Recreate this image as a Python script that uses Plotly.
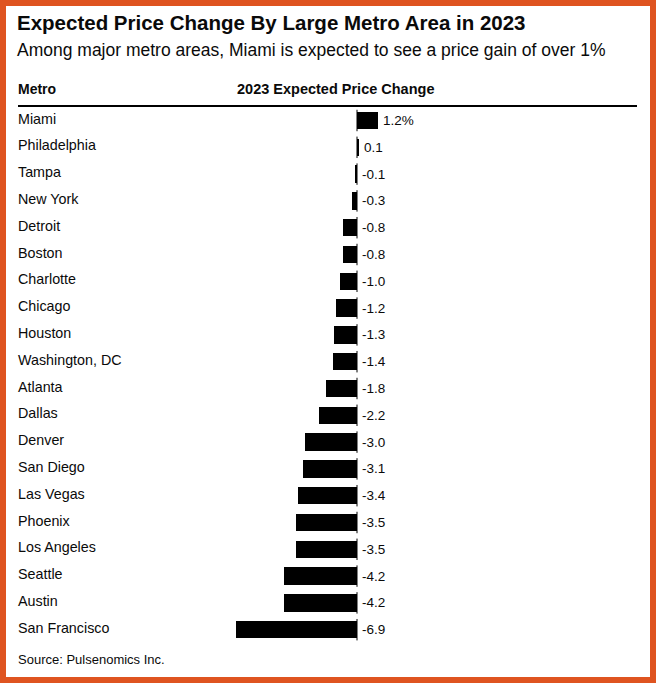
import plotly.graph_objects as go

metros = ["Miami", "Philadelphia", "Tampa", "New York", "Detroit", "Boston", "Charlotte",
          "Chicago", "Houston", "Washington, DC", "Atlanta", "Dallas", "Denver", "San Diego",
          "Las Vegas", "Phoenix", "Los Angeles", "Seattle", "Austin", "San Francisco"]
changes = [1.2, 0.1, -0.1, -0.3, -0.8, -0.8, -1.0, -1.2, -1.3, -1.4, -1.8, -2.2, -3.0,
           -3.1, -3.4, -3.5, -3.5, -4.2, -4.2, -6.9]
value_labels = ["1.2%", "0.1", "-0.1", "-0.3", "-0.8", "-0.8", "-1.0", "-1.2", "-1.3", "-1.4",
                "-1.8", "-2.2", "-3.0", "-3.1", "-3.4", "-3.5", "-3.5", "-4.2", "-4.2", "-6.9"]

W, H = 656, 683
FONT = "Liberation Sans, Arial, sans-serif"
TXT = "#0a0a0a"
ORANGE = "#DF5420"

idx = list(range(len(metros)))

fig = go.Figure()
fig.add_trace(go.Bar(
    x=changes, y=idx, orientation="h", width=0.65,
    marker=dict(color="#000000", line=dict(width=0)),
    hoverinfo="skip", showlegend=False,
))

# pixel mapping: zero at x=357, 17.5 px per unit; row 0 at y=120.5, 26.8 px per row
px_per_unit = 17.5
x0 = 357
xr = [-x0 / px_per_unit, (W - x0) / px_per_unit]
row0, step = 120.5, 26.8
yr = [(H - row0) / step, -row0 / step]

fig.update_layout(
    width=W, height=H,
    margin=dict(l=0, r=0, t=0, b=0),
    paper_bgcolor="white", plot_bgcolor="white",
    xaxis=dict(range=xr, visible=False, fixedrange=True),
    yaxis=dict(range=yr, visible=False, fixedrange=True),
    bargap=0,
)

shapes = []
# orange border
bw = 6
shapes.append(dict(type="rect", xref="paper", yref="paper", x0=0, x1=1, y0=0, y1=bw / H,
                   fillcolor=ORANGE, line=dict(width=0), layer="above"))
shapes.append(dict(type="rect", xref="paper", yref="paper", x0=0, x1=1, y0=1 - bw / H, y1=1,
                   fillcolor=ORANGE, line=dict(width=0), layer="above"))
shapes.append(dict(type="rect", xref="paper", yref="paper", x0=0, x1=bw / W, y0=0, y1=1,
                   fillcolor=ORANGE, line=dict(width=0), layer="above"))
shapes.append(dict(type="rect", xref="paper", yref="paper", x0=1 - bw / W, x1=1, y0=0, y1=1,
                   fillcolor=ORANGE, line=dict(width=0), layer="above"))
# header rule
shapes.append(dict(type="line", xref="paper", yref="paper", x0=18 / W, x1=637 / W,
                   y0=1 - 106 / H, y1=1 - 106 / H, line=dict(color="#000000", width=2)))
# zero line segments per row
for i in idx:
    shapes.append(dict(type="line", xref="x", yref="y", x0=0, x1=0, y0=i - 0.4, y1=i + 0.4,
                       line=dict(color="#000000", width=1)))

annotations = []
def pa(text, x, y, size, bold=False, xanchor="left"):
    annotations.append(dict(
        text=f"<b>{text}</b>" if bold else text, xref="paper", yref="paper",
        x=x / W, y=1 - y / H, xanchor=xanchor, yanchor="middle", showarrow=False,
        font=dict(family=FONT, size=size, color=TXT)))

LX = 16
pa("Expected Price Change By Large Metro Area in 2023", LX - 1, 23, 20.5, bold=True)
pa("Among major metro areas, Miami is expected to see a price gain of over 1%", LX - 1, 50, 17.5)
pa("Metro", LX, 89, 14, bold=True)
pa("2023 Expected Price Change", 335.5, 89, 14.5, bold=True, xanchor="center")
pa("Source: Pulsenomics Inc.", LX, 659, 13)

for i, (m, v, lab) in enumerate(zip(metros, changes, value_labels)):
    annotations.append(dict(text=m, xref="paper", yref="y", x=LX / W, y=i, xanchor="left",
                            yanchor="middle", showarrow=False, yshift=2,
                            font=dict(family=FONT, size=14.3, color=TXT)))
    annotations.append(dict(text=lab, xref="x", yref="y", x=max(v, 0), y=i, xanchor="left",
                            yanchor="middle", showarrow=False, xshift=3,
                            font=dict(family=FONT, size=13.5, color=TXT)))

fig.update_layout(shapes=shapes, annotations=annotations)
fig.write_html("out.html", config={"displayModeBar": False},
               post_script="document.body.style.margin='0';document.body.style.overflow='hidden';")
